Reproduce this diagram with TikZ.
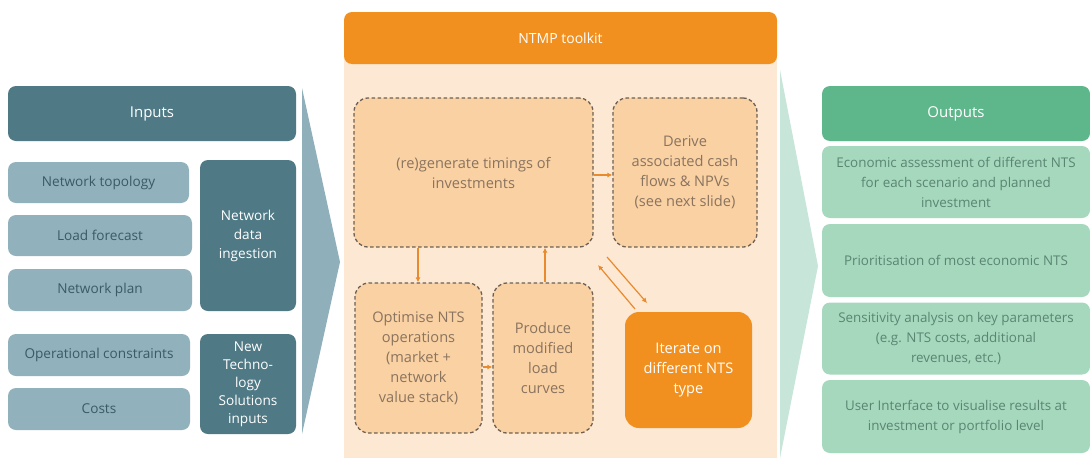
\documentclass[tikz,border=0pt]{standalone}
\usepackage{fontspec}
\setmainfont{Open Sans}
\usetikzlibrary{arrows.meta}
\definecolor{tealdark}{HTML}{4E7985}
\definecolor{teallight}{HTML}{91B2BC}
\definecolor{tealtext}{HTML}{3A5A65}
\definecolor{tealchev}{HTML}{8FB0BA}
\definecolor{orangemain}{HTML}{F2901F}
\definecolor{peach}{HTML}{FDE8D3}
\definecolor{dashfill}{HTML}{F9D1A3}
\definecolor{dashline}{HTML}{6E6054}
\definecolor{dashtext}{HTML}{8A735F}
\definecolor{arrowor}{HTML}{E98A2C}
\definecolor{greendark}{HTML}{5EB68B}
\definecolor{greenlight}{HTML}{A6D8BE}
\definecolor{greentext}{HTML}{5A8671}
\definecolor{greenchev}{HTML}{C7E5D8}
\begin{document}
\begin{tikzpicture}[x=1pt,y=-1pt,
  base/.style={rounded corners=8pt, inner sep=2pt, align=center, anchor=center},
  hdrin/.style={base, fill=tealdark, text=white, font=\fontsize{15}{18}\selectfont},
  inbox/.style={base, fill=teallight, text=tealtext, font=\fontsize{13.6}{16}\selectfont},
  indark/.style={base, fill=tealdark, text=white, font=\fontsize{13.6}{19}\selectfont},
  hdror/.style={base, fill=orangemain, text=white, font=\fontsize{14}{17}\selectfont},
  dbox/.style={base, rounded corners=14pt, fill=dashfill, draw=dashline, line width=1.3pt, dash pattern=on 3.5pt off 2.5pt, text=dashtext, font=\fontsize{14.6}{20}\selectfont},
  orbox/.style={base, rounded corners=14pt, fill=orangemain, text=white, font=\fontsize{14.6}{20}\selectfont},
  hdrgr/.style={base, fill=greendark, text=white, font=\fontsize{15}{18}\selectfont},
  outbox/.style={base, fill=greenlight, text=greentext, font=\fontsize{13.4}{20}\selectfont},
  conn/.style={draw=arrowor, line width=1.2pt, -{Latex[length=5pt,width=5pt]}}
]
\useasboundingbox (0,0) rectangle (1090,461);
\fill[white] (0,0) rectangle (1090,461);

% chevrons
\fill[tealchev] (302,88) -- (340,262) -- (302,434) -- cycle;
\fill[greenchev] (780,70) -- (818,266) -- (780,458) -- cycle;

% inputs
\node[hdrin, minimum width=288pt, minimum height=55pt] (inputs) at (152,113.5) {Inputs};
\node[inbox, minimum width=181pt, minimum height=41pt] (topo) at (98.5,182.5) {Network topology};
\node[inbox, minimum width=184pt, minimum height=41pt] (load) at (100,235.5) {Load forecast};
\node[inbox, minimum width=184pt, minimum height=42pt] (plan) at (100,290) {Network plan};
\node[inbox, minimum width=182pt, minimum height=42pt] (opcon) at (99,355) {Operational constraints};
\node[inbox, minimum width=182pt, minimum height=42pt] (costs) at (99,409) {Costs};
\node[indark, minimum width=96pt, minimum height=151pt] (ingest) at (248,235.5) {Network\\data\\ingestion};
\node[indark, minimum width=96pt, minimum height=100pt, font=\fontsize{13.6}{18}\selectfont] (nts) at (248,384) {New\\Techno-\\logy\\Solutions\\inputs};

% toolkit
\fill[peach] (344,40) rectangle (777,458);
\node[hdror, minimum width=433pt, minimum height=52pt] (tk) at (560.5,38) {NTMP toolkit};
\node[dbox, minimum width=239pt, minimum height=149pt] (regen) at (473.5,172.5) {(re)generate timings of\\investments};
\node[dbox, minimum width=144pt, minimum height=149pt] (derive) at (685,172.5) {Derive\\associated cash\\flows \& NPVs\\(see next slide)};
\node[dbox, minimum width=127pt, minimum height=150pt] (optim) at (418.5,358) {Optimise NTS\\operations\\(market +\\network\\value stack)};
\node[dbox, minimum width=100pt, minimum height=150pt] (prod) at (543,358) {Produce\\modified\\load\\curves};
\node[orbox, minimum width=127pt, minimum height=116pt] (iter) at (688.5,370) {Iterate on\\different NTS\\type};

\coordinate (d1a) at (607,257);
\coordinate (d1b) at (647,303);
\coordinate (d2a) at (635,309);
\coordinate (d2b) at (598,265);
\draw[conn] (regen.east |- 0,175) -- (derive.west |- 0,175);
\draw[conn] (regen.south -| 418,0) -- (optim.north -| 418,0);
\draw[conn] (prod.north -| 545,0) -- (regen.south -| 545,0);
\draw[conn] (optim.east |- 0,367) -- (prod.west |- 0,367);
\draw[conn] (d1a) -- (d1b);
\draw[conn] (d2a) -- (d2b);

% outputs
\node[hdrgr, minimum width=268pt, minimum height=55pt] (outputs) at (956,113.5) {Outputs};
\node[outbox, minimum width=268pt, minimum height=72pt] (o1) at (956,182) {Economic assessment of different NTS\\for each scenario and planned\\investment};
\node[outbox, minimum width=268pt, minimum height=73pt] (o2) at (956,260.5) {Prioritisation of most economic NTS};
\node[outbox, minimum width=268pt, minimum height=72pt] (o3) at (956,338.5) {Sensitivity analysis on key parameters\\(e.g. NTS costs, additional\\revenues, etc.)};
\node[outbox, minimum width=268pt, minimum height=73pt] (o4) at (956,416.5) {User Interface to visualise results at\\investment or portfolio level};
\end{tikzpicture}
\end{document}
